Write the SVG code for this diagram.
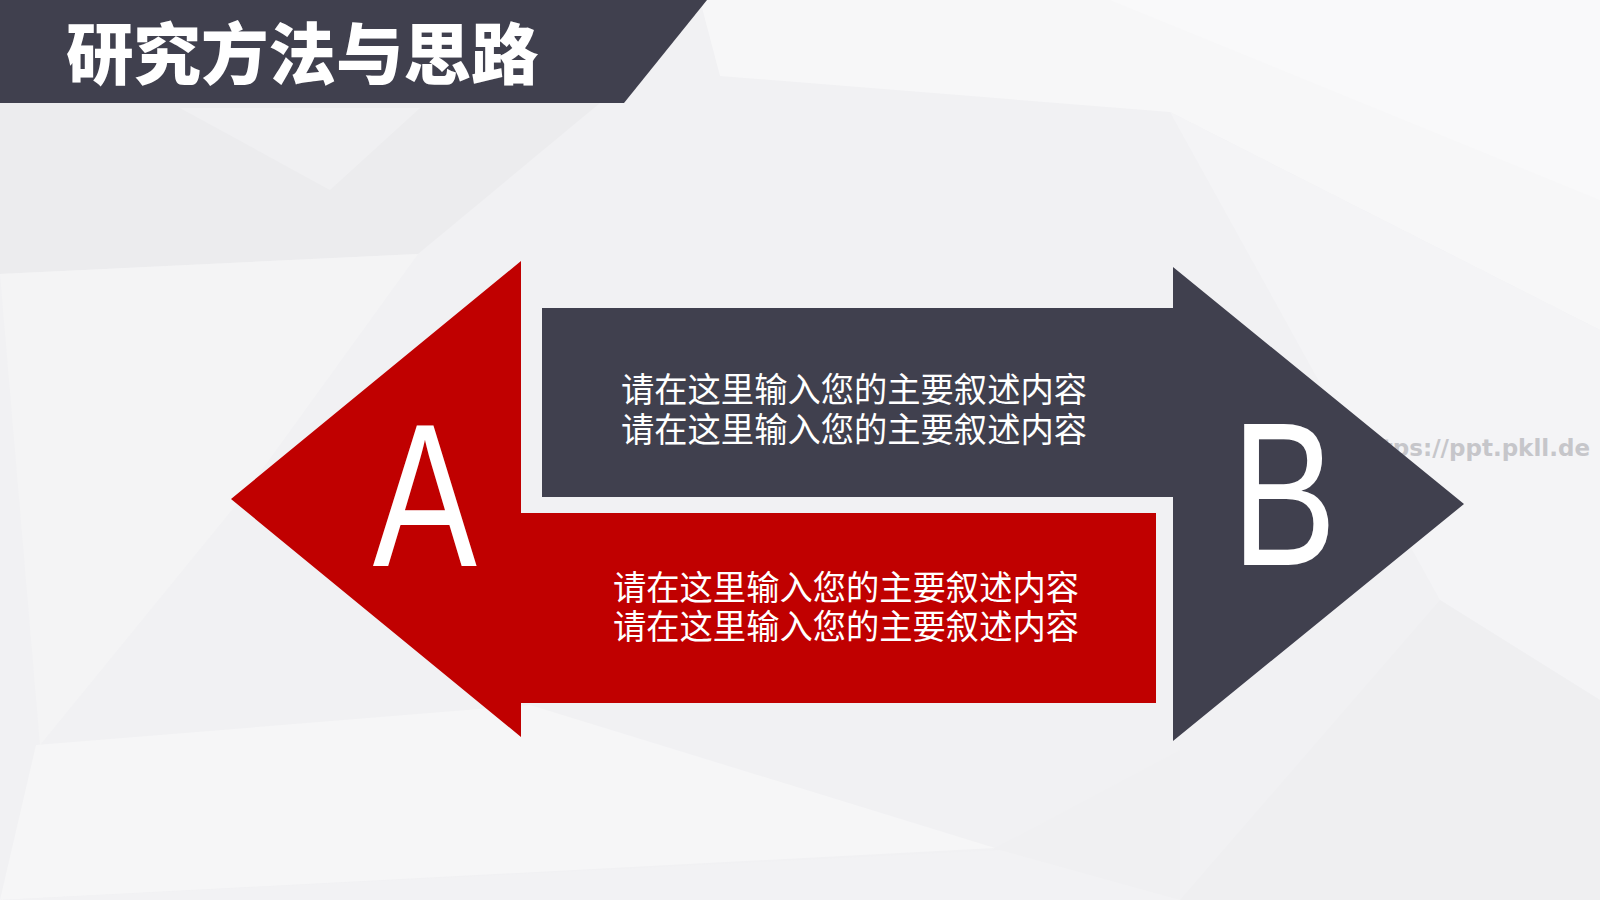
<svg xmlns="http://www.w3.org/2000/svg" width="1600" height="900" viewBox="0 0 1600 900">
  <style>
    .cjk { font-family: "Noto Sans CJK SC", "Noto Sans", sans-serif; }
    .body { font-size: 34px; fill: #ffffff; text-anchor: middle; }
    .letter { font-family: "Liberation Sans", "DejaVu Sans", sans-serif; font-size: 204px; fill: #ffffff; text-anchor: middle; }
    .red { fill: #c00000; }
    .dark { fill: #40404e; }
  </style>
  <g id="background">
    <rect x="0" y="0" width="1600" height="900" fill="#f1f1f3"/>
    <polygon points="700,0 1600,0 1600,330 1170,112 720,76" fill="#f7f7f8"/>
    <polygon points="1110,0 1600,0 1600,200" fill="#f9f9fa"/>
    <polygon points="0,103 600,103 418,254 0,274" fill="#ececee"/>
    <polygon points="180,108 420,108 330,190" fill="#f0f0f2"/>
    <polygon points="0,274 418,254 240,500 40,745" fill="#f4f4f5"/>
    <polygon points="1170,112 1600,330 1600,700 1440,600" fill="#f4f4f6"/>
    <polygon points="1440,600 1600,700 1600,900 1180,900" fill="#efeff1"/>
    <polygon points="36,745 530,705 995,848 0,900" fill="#f6f6f7"/>
    <polygon points="995,848 1180,750 1180,900 900,900" fill="#f0f0f2"/>
    <polygon points="0,900 1000,850 1180,900" fill="#f2f2f4"/>
  </g>
  <g id="watermark">
    <text x="1590" y="456" font-family="DejaVu Sans, sans-serif" font-size="23" font-weight="bold" text-anchor="end" fill="#c6c6ca">https://ppt.pkll.de</text>
  </g>
  <g id="header">
    <polygon points="0,0 707,0 624,103 0,103" class="dark"/>
    <text x="66" y="79" class="cjk" font-size="67.5" font-weight="900" fill="#ffffff">研究方法与思路</text>
  </g>
  <g id="connectors"></g>
  <g id="node-b">
    <polygon class="dark" points="1464,504 1173,267 1173,308 542,308 542,497 1173,497 1173,741"/>
    <text class="letter" transform="translate(1284,565) scale(0.775,1)">B</text>
    <text class="cjk body" x="854" y="401.5" textLength="466" lengthAdjust="spacingAndGlyphs">请在这里输入您的主要叙述内容</text>
    <text class="cjk body" x="854" y="441.5" textLength="466" lengthAdjust="spacingAndGlyphs">请在这里输入您的主要叙述内容</text>
  </g>
  <g id="node-a">
    <polygon class="red" points="231,499 521,261 521,513 1156,513 1156,703 521,703 521,737"/>
    <text class="letter" transform="translate(424.7,566) scale(0.765,1)">A</text>
    <text class="cjk body" x="846" y="599.5" textLength="466" lengthAdjust="spacingAndGlyphs">请在这里输入您的主要叙述内容</text>
    <text class="cjk body" x="846" y="638.5" textLength="466" lengthAdjust="spacingAndGlyphs">请在这里输入您的主要叙述内容</text>
  </g>
</svg>
